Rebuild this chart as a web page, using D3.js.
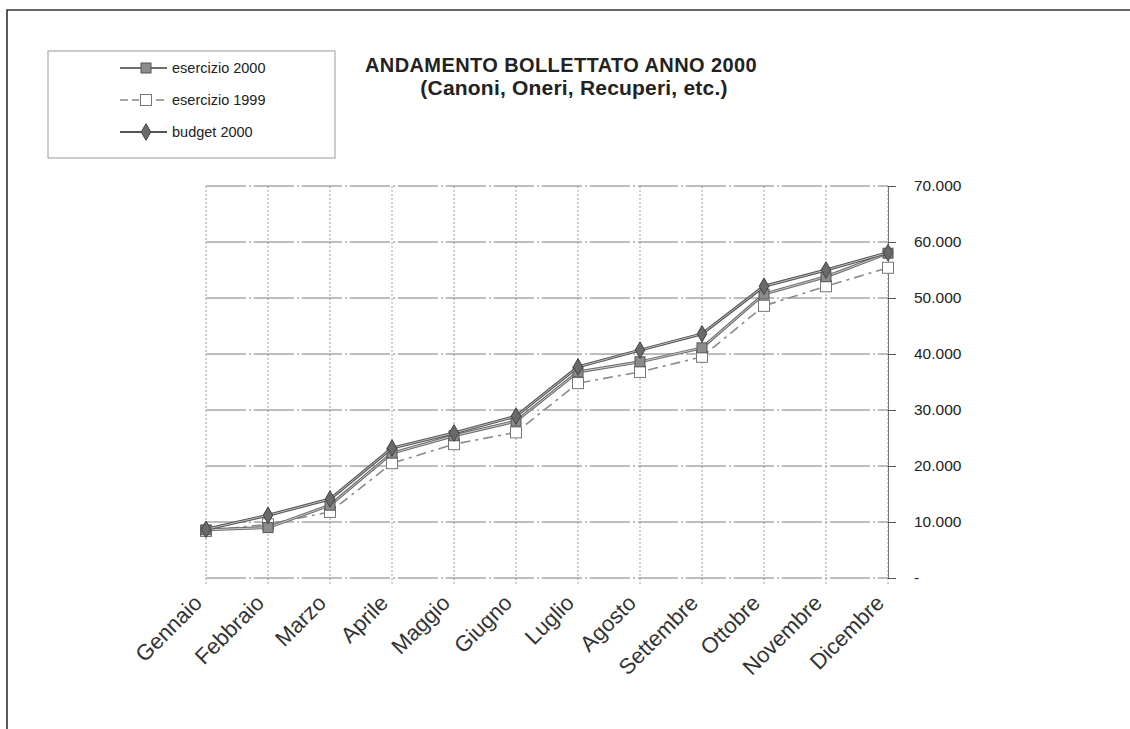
<!DOCTYPE html>
<html>
<head>
<meta charset="utf-8">
<script src="https://cdn.jsdelivr.net/npm/d3@7"></script>
<style>
  html, body { margin: 0; padding: 0; background: #fff; }
  svg { display: block; font-family: Arial, "Liberation Sans", sans-serif; }
</style>
</head>
<body>
<svg id="chart" width="1130" height="729"></svg>
<script>
// Monthly billed amounts, cumulative (Italian thousands separators)
const months = ["Gennaio", "Febbraio", "Marzo", "Aprile", "Maggio", "Giugno",
                "Luglio", "Agosto", "Settembre", "Ottobre", "Novembre", "Dicembre"];
const esercizio2000 = [8600, 9000, 13000, 22300, 25400, 28000, 36800, 38600, 41100, 50700, 53800, 58000];
const esercizio1999 = [8400, 9600, 11800, 20500, 23900, 26000, 34800, 36800, 39500, 48600, 52100, 55400];
const budget2000    = [8700, 11200, 14100, 23200, 25900, 28900, 37700, 40700, 43600, 52100, 55000, 58100];
const yTicks = [0, 10000, 20000, 30000, 40000, 50000, 60000, 70000];
const seriesNames = ["esercizio 2000", "esercizio 1999", "budget 2000"];

const svg = d3.select("#chart");

// outer frame (top and left edges)
svg.append("path").attr("d", "M7,729 L7,10 L1130,10")
  .attr("fill", "none").attr("stroke", "#333").attr("stroke-width", 1.6);

const plot = { left: 206, right: 888, top: 186, bottom: 578 };

const x = d3.scalePoint().domain(months).range([plot.left, plot.right]);
const y = d3.scaleLinear().domain([0, 70000]).range([plot.bottom, plot.top]);

const fmt = v => v === 0 ? "-" : d3.format(",")(v).replace(/,/g, ".");

// horizontal gridlines
svg.append("g").selectAll("line").data(yTicks).join("line")
  .attr("x1", plot.left).attr("x2", plot.right)
  .attr("y1", d => y(d)).attr("y2", d => y(d))
  .attr("stroke", "#7a7a7a").attr("stroke-width", 1)
  .attr("stroke-dasharray", "40,3,2,3");

// vertical gridlines
svg.append("g").selectAll("line").data(months).join("line")
  .attr("x1", d => x(d)).attr("x2", d => x(d))
  .attr("y1", plot.top).attr("y2", plot.bottom + 6)
  .attr("stroke", "#a0a0a0").attr("stroke-width", 1)
  .attr("stroke-dasharray", "2,2");

// right-hand value axis
const yAxis = d3.axisRight(y).tickValues(yTicks).tickFormat(fmt).tickSize(8).tickPadding(18);
const ya = svg.append("g").attr("transform", `translate(${plot.right},0)`).call(yAxis);
ya.select(".domain").attr("stroke", "#777");
ya.selectAll(".tick line").attr("stroke", "#555");
ya.selectAll(".tick text").attr("font-size", 15.5).attr("fill", "#222")
  .attr("font-family", "Arial, 'Liberation Sans', sans-serif");

// category labels, slanted
svg.append("g").selectAll("text").data(months).join("text")
  .attr("transform", d => `translate(${x(d) - 8},${plot.bottom + 21}) rotate(-45)`)
  .attr("text-anchor", "end")
  .attr("dy", "0.35em")
  .attr("font-size", 22)
  .attr("fill", "#333")
  .text(d => d);

// lines drawn as a dark casing with a lighter core
const line = d3.line().x((d, i) => x(months[i])).y(d => y(d));

function drawSeries(values, opts) {
  const g = svg.append("g");
  g.append("path").datum(values).attr("d", line)
    .attr("fill", "none").attr("stroke", opts.outer).attr("stroke-width", opts.outerW)
    .attr("stroke-dasharray", opts.dash || null);
  if (opts.inner) {
    g.append("path").datum(values).attr("d", line)
      .attr("fill", "none").attr("stroke", opts.inner).attr("stroke-width", 1)
      .attr("stroke-dasharray", opts.dash || null);
  }
  return g;
}

function marker(g, kind, cx, cy) {
  if (kind === "square") {
    g.append("rect").attr("x", cx - 5).attr("y", cy - 5).attr("width", 10).attr("height", 10)
      .attr("fill", "#8c8c8c").attr("stroke", "#555").attr("stroke-width", 1);
  } else if (kind === "open") {
    g.append("rect").attr("x", cx - 5.5).attr("y", cy - 5.5).attr("width", 11).attr("height", 11)
      .attr("fill", "#fff").attr("stroke", "#777").attr("stroke-width", 1);
  } else {
    g.append("path").attr("d", d3.symbol(d3.symbolDiamond, 80)())
      .attr("transform", `translate(${cx},${cy})`)
      .attr("fill", "#6a6a6a").attr("stroke", "#444").attr("stroke-width", 1);
  }
}

const styles = [
  { values: esercizio2000, outer: "#6e6e6e", inner: "#c8c8c8", outerW: 3, marker: "square" },
  { values: esercizio1999, outer: "#8a8a8a", inner: null, outerW: 1.6, dash: "10,5,3,5", marker: "open" },
  { values: budget2000, outer: "#555", inner: "#bdbdbd", outerW: 3, marker: "diamond" }
];

// draw 1999 first so the 2000 series sit on top
[1, 0, 2].forEach(k => {
  const s = styles[k];
  const g = drawSeries(s.values, s);
  s.values.forEach((v, i) => marker(g, s.marker, x(months[i]), y(v)));
});

// title
svg.append("text").attr("x", 561).attr("y", 72).attr("text-anchor", "middle")
  .attr("font-size", 20).attr("font-weight", "bold").attr("fill", "#222")
  .attr("letter-spacing", 0.4)
  .text("ANDAMENTO BOLLETTATO ANNO 2000");
svg.append("text").attr("x", 574).attr("y", 95).attr("text-anchor", "middle")
  .attr("font-size", 21).attr("font-weight", "bold").attr("fill", "#222")
  .attr("letter-spacing", 0.2)
  .text("(Canoni, Oneri, Recuperi, etc.)");

// legend
const lg = svg.append("g");
lg.append("rect").attr("x", 48).attr("y", 51).attr("width", 287).attr("height", 107)
  .attr("fill", "#fff").attr("stroke", "#999").attr("stroke-width", 1);
const legendY = [68, 100, 132];
styles.forEach((s, k) => {
  const g = lg.append("g");
  const ly = legendY[k];
  g.append("line").attr("x1", 120).attr("x2", 167).attr("y1", ly).attr("y2", ly)
    .attr("stroke", s.outer).attr("stroke-width", s.outerW === 3 ? 2 : 1.4)
    .attr("stroke-dasharray", s.dash ? "8,4" : null);
  if (s.marker === "open") {
    g.append("rect").attr("x", 139).attr("y", ly - 7).attr("width", 14).attr("height", 14)
      .attr("fill", "#fff").attr("stroke", "none");
  }
  marker(g, s.marker, 146, ly);
  g.append("text").attr("x", 172).attr("y", ly).attr("dy", "0.35em")
    .attr("font-size", 14.5).attr("fill", "#222").text(seriesNames[k]);
});
</script>
</body>
</html>
